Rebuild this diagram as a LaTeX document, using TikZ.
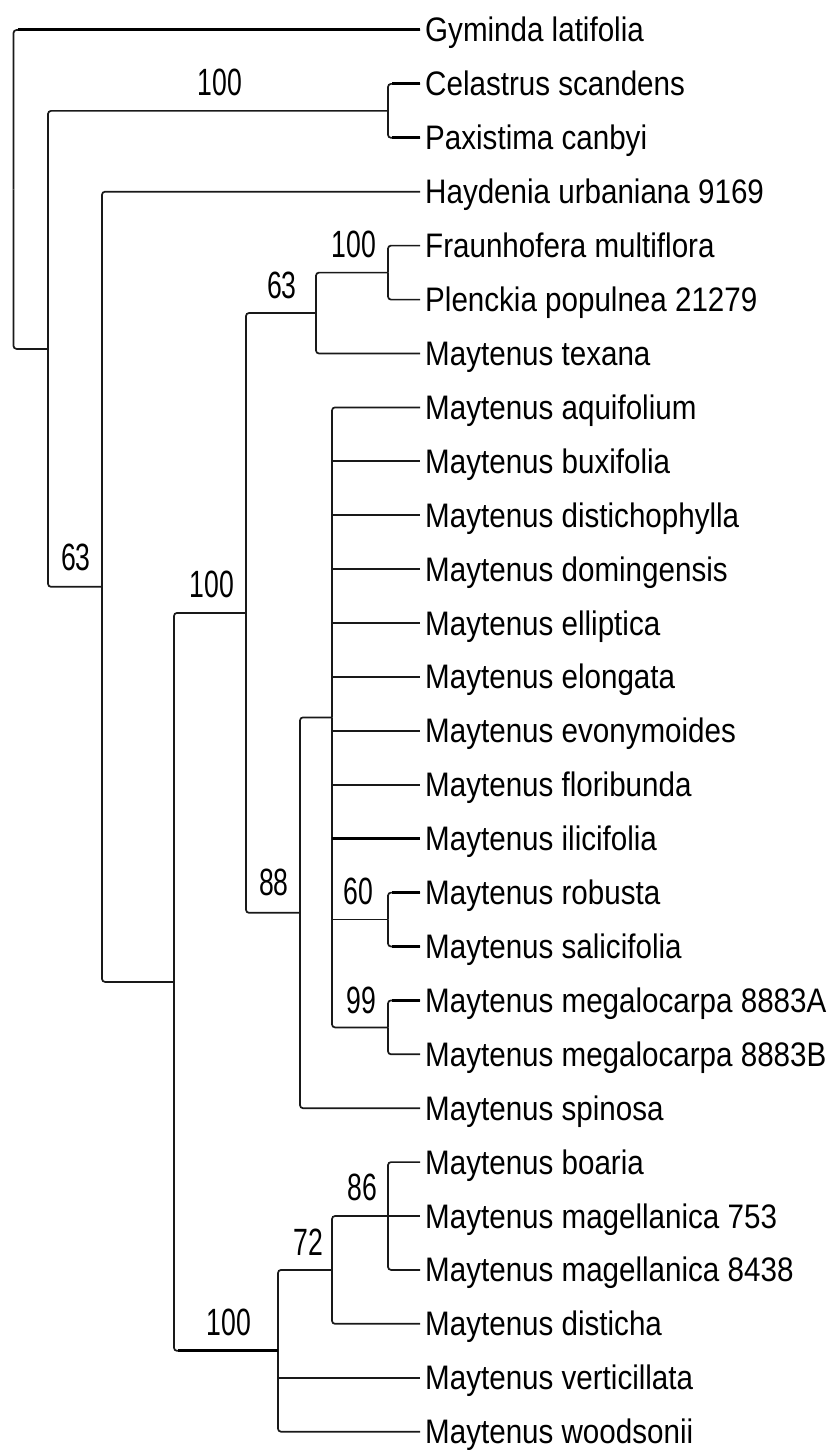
\documentclass[tikz,border=0pt]{standalone}
\usepackage{fontspec}
\newfontfamily\leaffont[FakeStretch=0.87]{Liberation Sans}
\newfontfamily\labfont[FakeStretch=0.7]{Liberation Sans}
\usetikzlibrary{calc}
\begin{document}
\begin{tikzpicture}[x=1pt,y=-1pt,
  branch/.style={line width=1.7pt, rounded corners=3pt, draw=black!90},
  heavy/.style={line width=3pt, draw=black},
  leaf/.style={anchor=west, inner xsep=5pt, inner ysep=0pt, text height=24pt, text depth=0pt, font=\leaffont\fontsize{34}{40}\selectfont},
  lab/.style={inner sep=0pt, text height=27pt, text depth=0pt, font=\labfont\fontsize{38}{44}\selectfont}]
\useasboundingbox (0,0) rectangle (838,1450);
% leaves
\node[leaf] (l0) at (420,30) {Gyminda latifolia};
\node[leaf] (l1) at (420,83.9) {Celastrus scandens};
\node[leaf] (l2) at (420,137.8) {Paxistima canbyi};
\node[leaf] (l3) at (420,191.7) {Haydenia urbaniana 9169};
\node[leaf] (l4) at (420,245.6) {Fraunhofera multiflora};
\node[leaf] (l5) at (420,299.6) {Plenckia populnea 21279};
\node[leaf] (l6) at (420,353.5) {Maytenus texana};
\node[leaf] (l7) at (420,407.4) {Maytenus aquifolium};
\node[leaf] (l8) at (420,461.3) {Maytenus buxifolia};
\node[leaf] (l9) at (420,515.2) {Maytenus distichophylla};
\node[leaf] (l10) at (420,569.1) {Maytenus domingensis};
\node[leaf] (l11) at (420,623.0) {Maytenus elliptica};
\node[leaf] (l12) at (420,676.9) {Maytenus elongata};
\node[leaf] (l13) at (420,730.8) {Maytenus evonymoides};
\node[leaf] (l14) at (420,784.7) {Maytenus floribunda};
\node[leaf] (l15) at (420,838.7) {Maytenus ilicifolia};
\node[leaf] (l16) at (420,892.6) {Maytenus robusta};
\node[leaf] (l17) at (420,946.5) {Maytenus salicifolia};
\node[leaf] (l18) at (420,1000.4) {Maytenus megalocarpa 8883A};
\node[leaf] (l19) at (420,1054.3) {Maytenus megalocarpa 8883B};
\node[leaf] (l20) at (420,1108.2) {Maytenus spinosa};
\node[leaf] (l21) at (420,1162.1) {Maytenus boaria};
\node[leaf] (l22) at (420,1216.0) {Maytenus magellanica 753};
\node[leaf] (l23) at (420,1269.9) {Maytenus magellanica 8438};
\node[leaf] (l24) at (420,1323.8) {Maytenus disticha};
\node[leaf] (l25) at (420,1377.8) {Maytenus verticillata};
\node[leaf] (l26) at (420,1431.7) {Maytenus woodsonii};
% internal nodes
\coordinate (R) at (13.5,189.4);
\coordinate (A) at (48,348.9);
\coordinate (CP) at (388,110.9);
\coordinate (B) at (102,586.8);
\coordinate (C) at (174,981.9);
\coordinate (D) at (246,612.9);
\coordinate (E) at (316,313);
\coordinate (FP) at (388,272.6);
\coordinate (F) at (300,912.8);
\coordinate (G) at (332,717.4);
\coordinate (RS) at (388,919.5);
\coordinate (MM) at (388,1027.4);
\coordinate (H) at (278,1350.8);
\coordinate (I) at (332,1269.9);
\coordinate (J) at (388,1216);
% branches
\draw[branch] (R) |- (l0.west);
\draw[branch] (R) |- (A);
\draw[branch] (A) |- (CP);
\draw[branch] (A) |- (B);
\draw[branch] (CP) |- (l1.west);
\draw[branch] (CP) |- (l2.west);
\draw[branch] (B) |- (l3.west);
\draw[branch] (B) |- (C);
\draw[branch] (C) |- (D);
\draw[branch] (C) |- (H);
\draw[branch] (D) |- (E);
\draw[branch] (D) |- (F);
\draw[branch] (E) |- (FP);
\draw[branch] (E) |- (l6.west);
\draw[branch] (FP) |- (l4.west);
\draw[branch] (FP) |- (l5.west);
\draw[branch] (F) |- (G);
\draw[branch] (F) |- (l20.west);
\draw[branch] (G) |- (l7.west);
\draw[branch] (G) |- (MM);
\foreach \k in {8,...,15} {\draw[branch] (G |- l\k.west) -- (l\k.west);}
\draw[branch] (G |- RS) -- (RS);
\draw[branch] (RS) |- (l16.west);
\draw[branch] (RS) |- (l17.west);
\draw[branch] (MM) |- (l18.west);
\draw[branch] (MM) |- (l19.west);
\draw[branch] (H) |- (I);
\draw[branch] (H) |- (l26.west);
\draw[branch] (H |- l25.west) -- (l25.west);
\draw[branch] (I) |- (J);
\draw[branch] (I) |- (l24.west);
\draw[branch] (J) |- (l21.west);
\draw[branch] (J) |- (l23.west);
\draw[branch] (J |- l22.west) -- (l22.west);
% heavier segments
\draw[heavy] ($(R |- l0.west)+(4,0)$) -- (l0.west);
\draw[heavy] ($(CP |- l1.west)+(4,0)$) -- (l1.west);
\draw[heavy] ($(CP |- l2.west)+(4,0)$) -- (l2.west);
\draw[heavy] (G |- l15.west) -- (l15.west);
\draw[heavy] ($(RS |- l16.west)+(4,0)$) -- (l16.west);
\draw[heavy] ($(RS |- l17.west)+(4,0)$) -- (l17.west);
\draw[heavy] ($(MM |- l18.west)+(4,0)$) -- (l18.west);
\draw[heavy] ($(C |- H)+(4,0)$) -- (H);
% support values
\node[lab] (s1) at (220,82.5) {100};
\node[lab] (s2) at (354,244) {100};
\node[lab] (s3) at (282,285) {63};
\node[lab] (s4) at (76,557) {63};
\node[lab] (s5) at (212,584) {100};
\node[lab] (s6) at (274,882) {88};
\node[lab] (s7) at (358,891) {60};
\node[lab] (s8) at (361,1000) {99};
\node[lab] (s9) at (229,1322) {100};
\node[lab] (s10) at (308,1242) {72};
\node[lab] (s11) at (362,1187) {86};
\end{tikzpicture}
\end{document}
